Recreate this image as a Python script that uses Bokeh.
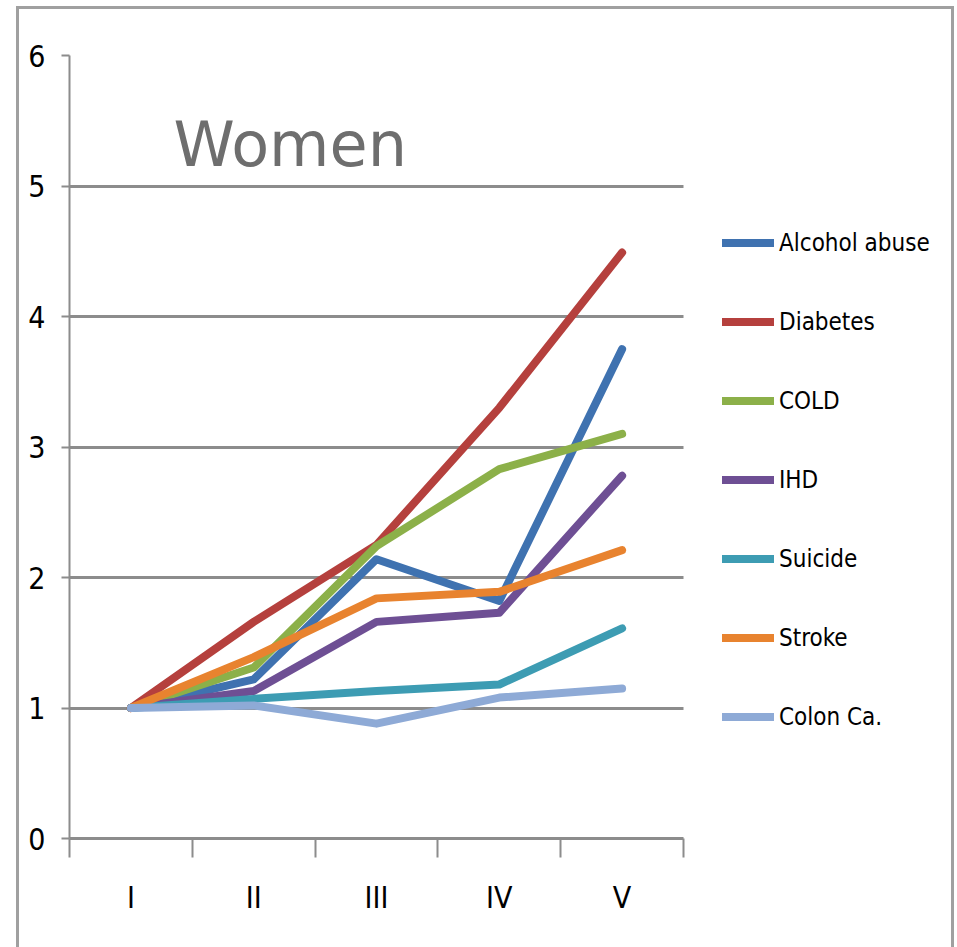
from bokeh.plotting import figure
from bokeh.models import FixedTicker, Label, Legend, LegendItem
from bokeh.embed import file_html
from bokeh.resources import INLINE

# Relative risk by social class (I = highest, V = lowest), women
stages = ["I", "II", "III", "IV", "V"]
stage_pos = [1, 2, 3, 4, 5]

alcohol_abuse = [1.00, 1.22, 2.14, 1.82, 3.75]
diabetes = [1.00, 1.66, 2.25, 3.30, 4.49]
cold = [1.00, 1.31, 2.24, 2.83, 3.10]
ihd = [1.00, 1.13, 1.66, 1.73, 2.78]
suicide = [1.00, 1.07, 1.13, 1.18, 1.61]
stroke = [1.00, 1.39, 1.84, 1.89, 2.21]
colon_ca = [1.00, 1.02, 0.88, 1.08, 1.15]

series_names = ["Alcohol abuse", "Diabetes", "COLD", "IHD", "Suicide", "Stroke", "Colon Ca."]
series_values = [alcohol_abuse, diabetes, cold, ihd, suicide, stroke, colon_ca]
series_colors = ["#3f72b0", "#b5403d", "#8cb049", "#6e4f94", "#3d9cb3", "#e8832f", "#8eaad6"]

y_ticks = [0, 1, 2, 3, 4, 5, 6]

NARROW = "'DejaVu Sans Condensed', sans-serif"
GRID = "#8c8c8c"

# The frame also holds the legend on its right; the plotted region
# (classes I..V) takes the first 614 px of the frame width.
FRAME_W = 882
PLOT_W = 614
x_lo = stage_pos[0] - 0.5
x_hi = stage_pos[-1] + 0.5
x_end = x_lo + (x_hi - x_lo) * FRAME_W / PLOT_W

p = figure(
    frame_width=FRAME_W, frame_height=783,
    x_range=(x_lo, x_end), y_range=(0, 6),
    min_border_left=50, min_border_right=0,
    min_border_top=46, min_border_bottom=109,
    output_backend="svg", toolbar_location=None,
    background_fill_color="white", border_fill_color="white",
    margin=(6, 0, 0, 16),
)
p.styles = {
    "border-left": "3px solid #a0a0a0",
    "border-top": "3px solid #a0a0a0",
    "border-right": "3px solid #a0a0a0",
}
p.outline_line_color = None

# y axis: integer ticks with horizontal grid lines
p.yaxis.ticker = FixedTicker(ticks=y_ticks)
p.yaxis.axis_line_color = GRID
p.yaxis.axis_line_width = 2
p.yaxis.major_tick_line_color = GRID
p.yaxis.major_tick_line_width = 2
p.yaxis.major_tick_out = 8
p.yaxis.major_tick_in = 0
p.yaxis.minor_tick_line_color = None
p.yaxis.major_label_standoff = 16
p.yaxis.major_label_text_font = NARROW
p.yaxis.major_label_text_font_size = "30px"
p.yaxis.major_label_text_color = "black"

p.ygrid.ticker = FixedTicker(ticks=y_ticks)
p.ygrid.grid_line_color = GRID
p.ygrid.grid_line_width = 3
p.ygrid.cross_bounds = (x_lo, x_hi)
p.xgrid.visible = False

# x axis: labels centred on each class, tick marks between classes
p.xaxis.bounds = (x_lo, x_hi)
p.xaxis.ticker = FixedTicker(ticks=stage_pos,
                             minor_ticks=[v - 0.5 for v in stage_pos] + [x_hi])
p.xaxis.major_label_overrides = {pos: lab for pos, lab in zip(stage_pos, stages)}
p.xaxis.axis_line_color = GRID
p.xaxis.axis_line_width = 3
p.xaxis.major_tick_line_color = None
p.xaxis.major_tick_out = 19
p.xaxis.major_tick_in = 0
p.xaxis.minor_tick_line_color = GRID
p.xaxis.minor_tick_line_width = 2
p.xaxis.minor_tick_out = 19
p.xaxis.minor_tick_in = 0
p.xaxis.major_label_standoff = 22
p.xaxis.major_label_text_font = NARROW
p.xaxis.major_label_text_font_size = "30px"
p.xaxis.major_label_text_color = "black"

items = []
for name, vals, col in zip(series_names, series_values, series_colors):
    r = p.line(stage_pos, vals, line_color=col, line_width=8,
               line_join="round", line_cap="round")
    items.append(LegendItem(label=name, renderers=[r]))

legend = Legend(
    items=items, location=(653, 82),
    glyph_width=52, glyph_height=79, label_height=79,
    label_standoff=5, spacing=0, padding=0, margin=0,
    border_line_color=None, background_fill_alpha=0,
    label_text_font=NARROW, label_text_font_size="24px", label_text_color="black",
)
p.add_layout(legend)

p.add_layout(Label(
    x=104, y=694, x_units="screen", y_units="screen", text="Women",
    text_font="DejaVu Sans", text_font_size="62px", text_color="#6e6e6e",
    text_baseline="alphabetic",
))

open("out.html", "w").write(file_html(p, INLINE))
